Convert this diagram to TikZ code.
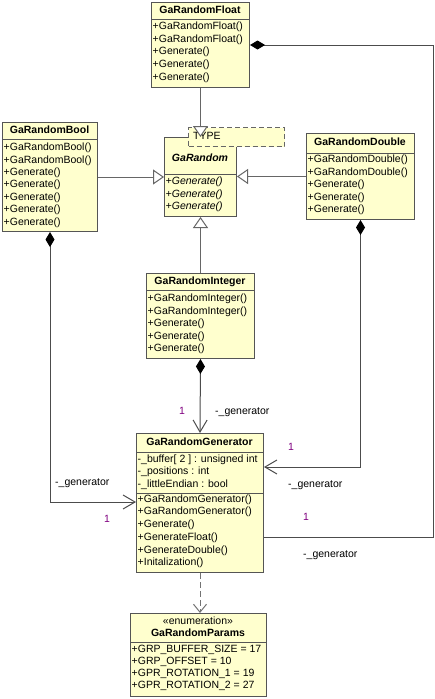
\documentclass[tikz,border=0pt]{standalone}
\usepackage{fontspec}
\setmainfont{Liberation Sans}
\usetikzlibrary{arrows.meta,calc}
\definecolor{umlfill}{RGB}{255,255,206}
\definecolor{umlline}{RGB}{85,85,85}
\definecolor{multcol}{RGB}{128,0,128}
\newcommand\umlfont{\fontsize{10.5}{12}\selectfont}
\newcommand\umlmembers[5]{%
  \foreach \txt [count=\i] in {#5} {
    \node[memb] (#1-\i) at (#2,{#3+#4*(\i-1)}) {\txt};
  }%
}
\tikzset{
  cls/.style={draw=umlline, fill=umlfill, line width=1pt, inner sep=0pt, anchor=north west},
  memb/.style={anchor=west, inner sep=0pt, font=\umlfont, text height=7.6pt, text depth=2.2pt},
  ttl/.style={anchor=center, inner sep=0pt, font=\umlfont\bfseries, text height=7.6pt, text depth=2.2pt},
  sepline/.style={draw=umlline, line width=1pt},
  genl/.style={draw=black!60, line width=1pt, -{Triangle[open, length=11pt, width=15pt, fill=white]}},
  assoc/.style={draw=black!70, line width=1pt},
  mult/.style={text=multcol, font=\umlfont, inner sep=0pt, text height=7.6pt, text depth=2.2pt},
  role/.style={anchor=west, inner sep=0pt, font=\umlfont, text height=7.6pt, text depth=2.2pt},
  dmd/.tip={Diamond[length=15pt,width=9pt,color=black,fill=black]},
  barb/.tip={Straight Barb[length=12pt,width=14pt]},
}
\begin{document}
\begin{tikzpicture}[x=1pt, y=-1pt]
\fill[white] (0,0) rectangle (435,699);
\useasboundingbox (0,0) rectangle (435,699);

% GaRandomFloat
\node[cls, minimum width=98pt, minimum height=85pt] (flt) at (151,2) {};
\node[ttl] (flt-t) at (200,10.5) {GaRandomFloat};
\draw[sepline] (flt.west |- 0,19) -- (flt.east |- 0,19);
\umlmembers{flt}{152.5}{27}{12.6}{+GaRandomFloat(),+GaRandomFloat(),+Generate(),+Generate(),+Generate()}

% GaRandom
\node[cls, minimum width=72pt, minimum height=79pt] (gr) at (164,137) {};
\node[ttl, font=\umlfont\bfseries\itshape] (gr-t) at (200,159) {GaRandom};
\draw[sepline] (gr.west |- 0,174) -- (gr.east |- 0,174);
\umlmembers{gr}{165.5}{182}{12.5}{{\itshape +Generate()},{\itshape +Generate()},{\itshape +Generate()}}

% TYPE template parameter
\node[draw=black!60, dash pattern=on 5pt off 3pt, fill=umlfill, line width=1pt,
      minimum width=96pt, minimum height=19pt, anchor=north west, inner sep=0pt] (typ) at (188,127) {};
\node[memb] (typ-t) at (193,137) {TYPE};

% GaRandomBool
\node[cls, minimum width=95pt, minimum height=109pt] (bool) at (2,122) {};
\node[ttl] (bool-t) at (49.5,130.5) {GaRandomBool};
\draw[sepline] (bool.west |- 0,139) -- (bool.east |- 0,139);
\umlmembers{bool}{3.5}{148}{12.4}{+GaRandomBool(),+GaRandomBool(),+Generate(),+Generate(),+Generate(),+Generate(),+Generate()}

% GaRandomDouble
\node[cls, minimum width=108pt, minimum height=86pt] (dbl) at (306,133) {};
\node[ttl] (dbl-t) at (360,143) {GaRandomDouble};
\draw[sepline] (dbl.west |- 0,153) -- (dbl.east |- 0,153);
\umlmembers{dbl}{307.5}{160}{12.5}{+GaRandomDouble(),+GaRandomDouble(),+Generate(),+Generate(),+Generate()}

% GaRandomInteger
\node[cls, minimum width=108pt, minimum height=85pt] (int) at (146,273) {};
\node[ttl] (int-t) at (200,281.5) {GaRandomInteger};
\draw[sepline] (int.west |- 0,290) -- (int.east |- 0,290);
\umlmembers{int}{147.5}{299}{12.5}{+GaRandomInteger(),+GaRandomInteger(),+Generate(),+Generate(),+Generate()}

% GaRandomGenerator
\node[cls, minimum width=127pt, minimum height=139pt] (grg) at (136,433) {};
\node[ttl] (grg-t) at (199.5,442.5) {GaRandomGenerator};
\draw[sepline] (grg.west |- 0,452) -- (grg.east |- 0,452);
\umlmembers{grga}{137.5}{459.5}{12.5}{-\_buffer[ 2 ] : unsigned int,-\_positions : int,-\_littleEndian : bool}
\draw[sepline] (grg.west |- 0,493) -- (grg.east |- 0,493);
\umlmembers{grgm}{137.5}{499.5}{12.75}{+GaRandomGenerator(),+GaRandomGenerator(),+Generate(),+GenerateFloat(),+GenerateDouble(),+Initalization()}

% GaRandomParams
\node[cls, minimum width=136pt, minimum height=83pt] (prm) at (130,613) {};
\node[ttl, font=\umlfont] (prm-s) at (198,622) {«enumeration»};
\node[ttl] (prm-t) at (198,633.5) {GaRandomParams};
\draw[sepline] (prm.west |- 0,642) -- (prm.east |- 0,642);
\umlmembers{prm}{131.5}{650}{12}{+GRP\_BUFFER\_SIZE = 17,+GRP\_OFFSET = 10,+GPR\_ROTATION\_1 = 19,+GPR\_ROTATION\_2 = 27}

% generalizations
\draw[genl] (flt.south) -- (gr.north);
\draw[genl] (bool.east) -- (bool.east -| gr.west);
\draw[genl] (dbl.west) -- (dbl.west -| gr.east);
\draw[genl] (int.north) -- (gr.south);

% compositions / associations to GaRandomGenerator
\coordinate (grgA) at ($(grg.north east)+(0,34)$);
\coordinate (grgB) at ($(grg.north east)+(0,104)$);
\coordinate (grgC) at ($(grg.north west)+(0,69)$);
\coordinate (fltC) at ($(flt.east)+(183.5,0)$);

\draw[assoc, dmd-barb] (int.south) -- (grg.north);
\draw[assoc, dmd-barb] (dbl.south) |- (grgA);
\draw[assoc, dmd-] (flt.east) -- (fltC) |- (grgB);
\draw[assoc, dmd-barb] (bool.south) |- (grgC);

% dependency
\draw[assoc, draw=black!55, dash pattern=on 6pt off 3pt, -{Straight Barb[length=8pt,width=13pt]}] (grg.south) -- (grg.south |- prm.north);

% labels
\node[mult] (m1) at (182,412) {1};
\node[role] (r1) at (215,412) {-\_generator};
\node[mult] (m2) at (291,448) {1};
\node[role] (r2) at (288,485) {-\_generator};
\node[mult] (m3) at (306,518) {1};
\node[role] (r3) at (303,555) {-\_generator};
\node[role] (r4) at (55,483) {-\_generator};
\node[mult] (m4) at (107,520) {1};
\end{tikzpicture}
\end{document}
